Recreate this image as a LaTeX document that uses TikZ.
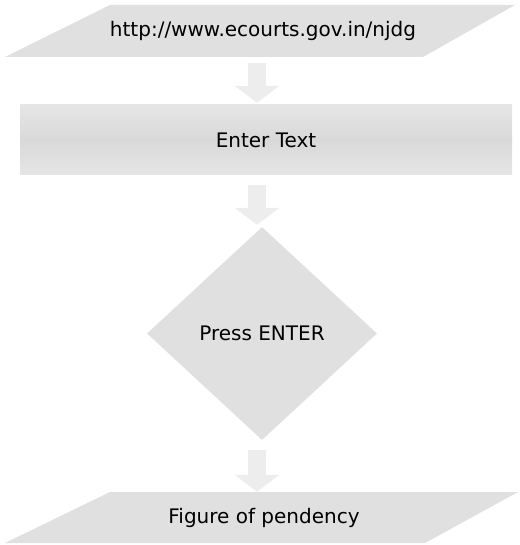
\documentclass[tikz,border=0pt]{standalone}
\usepackage{fontspec}
\setmainfont{DejaVu Sans}
\usetikzlibrary{arrows.meta,shapes.geometric}

\begin{document}
\begin{tikzpicture}[x=1pt, y=1pt,
  shade/.style={fill=black!12},
  box/.style={inner sep=0pt, font=\fontsize{20}{24}\selectfont},
  flow/.style={line width=18pt, draw=black!7, -{Triangle[length=17pt,width=44pt]},
    shorten <=6pt, shorten >=2pt}]
  \useasboundingbox (0,0) rectangle (519,-545);
  \fill [shade] (110,-5) -- (515,-5) -- (423,-57) -- (5,-57) -- cycle;
  \fill [shade] (110,-492) -- (518,-492) -- (425,-543) -- (5,-543) -- cycle;
  \node [box, minimum height=52pt] (url) at (263,-31) {http://www.ecourts.gov.in/njdg};
  \node [box, minimum width=492pt, minimum height=70pt, top color=black!10,
    bottom color=black!10, middle color=black!15] (enter) at (266,-140) {Enter Text};
  \node [box, shade, diamond, minimum width=230pt, minimum height=213pt] (press) at (262,-333.5) {Press ENTER};
  \node [box, minimum height=51pt] (pend) at (264,-517.5) {Figure of pendency};
  \coordinate (axis) at (257,0);
  \draw [flow] (url.south -| axis) -- (enter.north -| axis);
  \draw [flow, shorten <=10pt] (enter.south -| axis) -- (press.north -| axis);
  \draw [flow, shorten <=10pt, shorten >=0pt] (press.south -| axis) -- (pend.north -| axis);
\end{tikzpicture}
\end{document}
